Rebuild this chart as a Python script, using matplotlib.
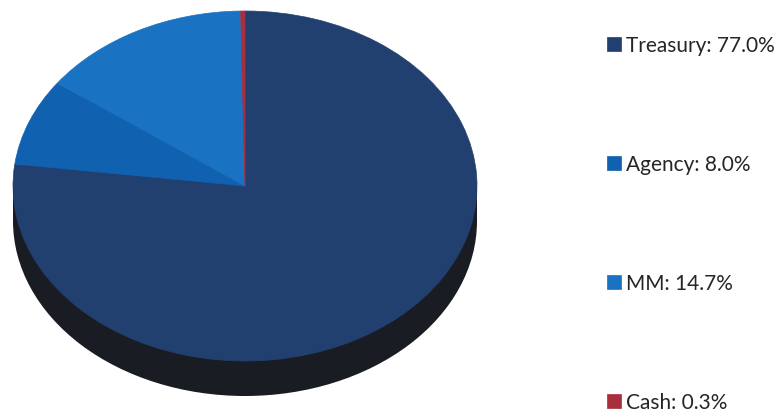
import matplotlib.pyplot as plt
from matplotlib.patches import Ellipse, Rectangle

plt.rcParams["font.family"] = ["Lato", "DejaVu Sans"]

# 포트폴리오 구성
labels = ["Treasury", "Agency", "MM", "Cash"]
shares = [77.0, 8.0, 14.7, 0.3]
colors = ["#22406f", "#1061b0", "#1a72c3", "#a8303e"]
side_color = "#1a1c23"

fig = plt.figure(figsize=(7.81, 4.14), dpi=100)
ax = fig.add_axes([13 / 781, 17 / 414, 464 / 781, 385 / 414])

depth = 0.2  # 원판 두께 (세로 반지름 대비)

# 옆면: 아래로 내린 타원 + 사각형
ax.add_patch(Ellipse((0, -depth), 2, 2, facecolor=side_color, edgecolor="none", zorder=0))
ax.add_patch(Rectangle((-1, -depth), 2, depth, facecolor=side_color, edgecolor="none", zorder=0))

wedges, _ = ax.pie(shares, colors=colors, startangle=90, counterclock=False,
                   radius=1, center=(0, 0), wedgeprops={"linewidth": 0})
for w, c in zip(wedges, colors):
    w.set_edgecolor(c)
    w.set_linewidth(0.5)
    w.set_zorder(2)

ax.set_aspect("auto")
ax.set_xlim(-1, 1)
ax.set_ylim(-1 - depth, 1)
ax.axis("off")

legend_labels = [f"{l}: {v:.1f}%" for l, v in zip(labels, shares)]
leg = fig.legend(wedges, legend_labels, loc="upper left",
                 bbox_to_anchor=(607 / 781, 1 - 36 / 414),
                 frameon=False, fontsize=15, labelspacing=4.76,
                 handlelength=0.67, handleheight=0.67, handletextpad=0.25,
                 borderaxespad=0, borderpad=0)
for t in leg.get_texts():
    t.set_color("#262626")

fig.savefig("out.png", dpi=100)
